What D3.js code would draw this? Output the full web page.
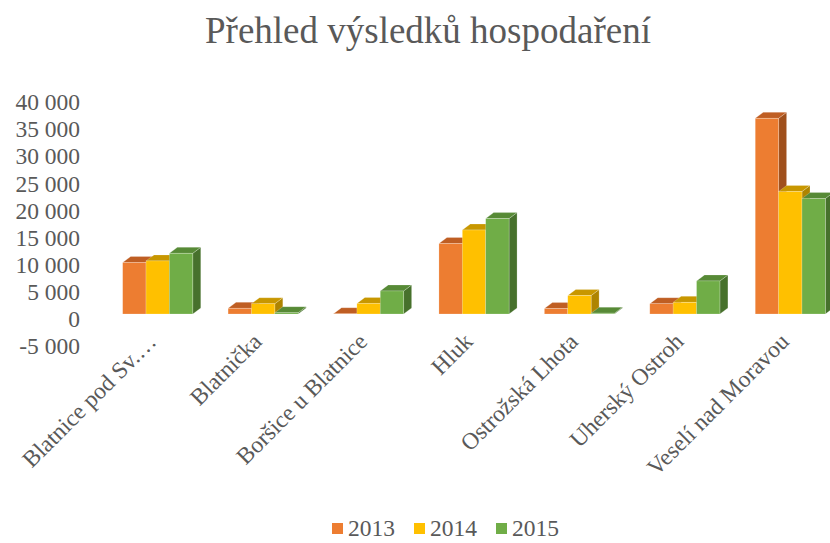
<!DOCTYPE html>
<html>
<head>
<meta charset="utf-8">
<script src="https://cdn.jsdelivr.net/npm/d3@7"></script>
<style>
  body { margin: 0; background: #fff; }
  text { font-family: "Liberation Serif", "Times New Roman", serif; fill: #595959; }
</style>
</head>
<body>
<div id="container"></div>
<script>
// data
const categories = ["Blatnice pod Sv.…", "Blatnička", "Boršice u Blatnice", "Hluk", "Ostrožská Lhota", "Uherský Ostroh", "Veselí nad Moravou"]
const years = ["2013", "2014", "2015"]
const values2013 = [9500, 1050, 50, 13000, 1000, 1900, 36100]
const values2014 = [9800, 1900, 1950, 15500, 3400, 2150, 22600]
const values2015 = [11200, 250, 4250, 17600, 150, 6100, 21300]
const yTicks = [-5000, 0, 5000, 10000, 15000, 20000, 25000, 30000, 35000, 40000]
const title = "Přehled výsledků hospodaření"

const seriesValues = {"2013": values2013, "2014": values2014, "2015": values2015}
const rows = categories.map((c, i) => ({name: c, values: years.map(y => ({year: y, value: seriesValues[y][i]}))}))

const width = 830, height = 543
const serif = "'Liberation Serif', 'Times New Roman', serif"
const depth = {dx: 8, dy: 6}
const colors = {
    "2013": {front: "#ED7D31", top: "#BF5E23", side: "#A0501C"},
    "2014": {front: "#FFC000", top: "#C89700", side: "#AE8400"},
    "2015": {front: "#70AD47", top: "#578A36", side: "#47712C"}
}

const svg = d3.select("#container").append("svg")
              .attr("width", width)
              .attr("height", height)

// title
svg.append("text")
   .attr("x", 428)
   .attr("y", 43)
   .attr("text-anchor", "middle")
   .style("font-family", serif)
   .style("font-size", "37px")
   .text(title)

// scales
const yScale = d3.scaleLinear()
                 .domain([-5000, 40000])
                 .range([341.1, 97.2])
const xScale = d3.scaleBand()
                 .domain(categories)
                 .range([105, 843])
                 .paddingInner(0.335)
                 .paddingOuter(0.1675)
const x1Scale = d3.scaleBand()
                  .domain(years)
                  .range([0, xScale.bandwidth()])

// y axis: labels only
const yAxis = d3.axisLeft(yScale)
                .tickValues(yTicks)
                .tickSize(0)
                .tickPadding(0)
                .tickFormat(d => d3.format(",")(d).replace(/,/g, " ").replace("−", "-"))
const yAxisG = svg.append("g")
                  .attr("transform", "translate(80, 5)")
                  .call(yAxis)
yAxisG.select(".domain").remove()
yAxisG.selectAll("text")
      .style("font-family", serif)
      .style("font-size", "23.5px")
      .attr("fill", "#595959")

// bars, drawn left to right so later fronts cover earlier side faces
const bars = rows.flatMap(r => r.values.map(v => ({name: r.name, year: v.year, value: v.value})))
const barG = svg.selectAll(".bar")
                .data(bars)
                .join("g")
                .attr("class", "bar")

barG.each(function (d) {
    const g = d3.select(this)
    const x0 = xScale(d.name) + x1Scale(d.year)
    const x1 = x0 + x1Scale.bandwidth()
    const yt = yScale(Math.max(0, d.value))
    const yb = yScale(Math.min(0, d.value))
    const c = colors[d.year]
    const {dx, dy} = depth
    g.append("polygon")
     .attr("points", [[x1, yt], [x1 + dx, yt - dy], [x1 + dx, yb - dy], [x1, yb]].join(" "))
     .attr("fill", c.side)
     .attr("stroke", "rgba(255,255,255,0.35)")
     .attr("stroke-width", 0.6)
    g.append("polygon")
     .attr("points", [[x0, yt], [x0 + dx, yt - dy], [x1 + dx, yt - dy], [x1, yt]].join(" "))
     .attr("fill", c.top)
     .attr("stroke", "rgba(255,255,255,0.35)")
     .attr("stroke-width", 0.6)
    g.append("rect")
     .attr("x", x0)
     .attr("y", yt)
     .attr("width", x1 - x0)
     .attr("height", Math.max(0, yb - yt))
     .attr("fill", c.front)
     .attr("stroke", "rgba(255,255,255,0.35)")
     .attr("stroke-width", 0.6)
})

// category labels
svg.selectAll(".cat-label")
   .data(categories)
   .join("text")
   .attr("class", "cat-label")
   .attr("text-anchor", "end")
   .style("font-family", serif)
   .style("font-size", "23.5px")
   .attr("transform", d => `translate(${xScale(d) + xScale.bandwidth() / 2}, 343) rotate(-45)`)
   .text(d => d)

// legend
const legend = svg.selectAll(".legend")
                  .data(years)
                  .join("g")
                  .attr("class", "legend")
                  .attr("transform", (d, i) => `translate(${332 + i * 82}, 523)`)
legend.append("rect")
      .attr("width", 11)
      .attr("height", 11)
      .attr("fill", d => colors[d].front)
legend.append("text")
      .attr("x", 16)
      .attr("y", 13)
      .style("font-family", serif)
      .style("font-size", "23.5px")
      .text(d => d)
</script>
</body>
</html>
